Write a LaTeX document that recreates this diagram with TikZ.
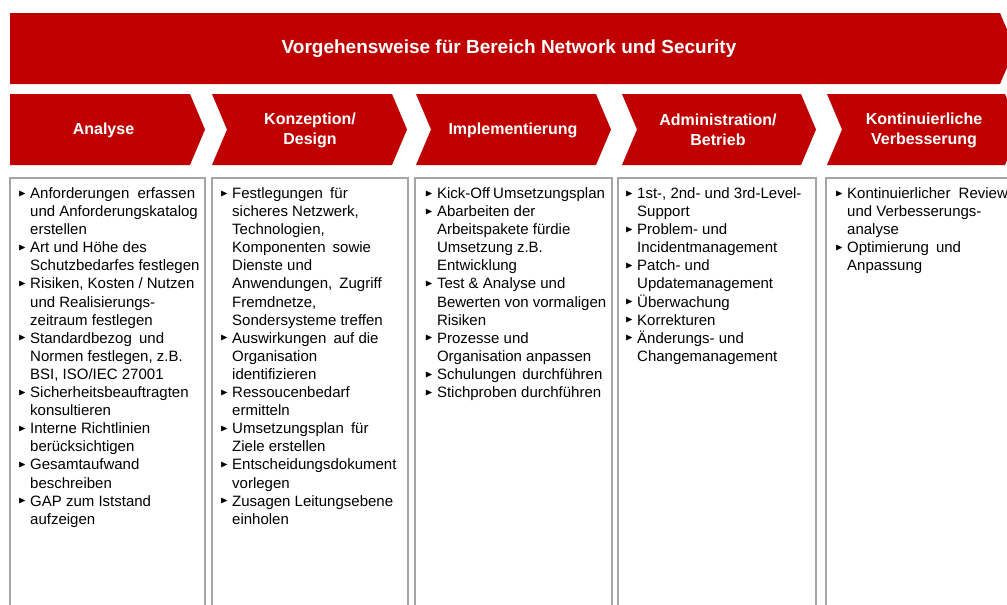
\documentclass[tikz,border=0pt]{standalone}
\usepackage{fontspec}
\setmainfont{Liberation Sans}
\usepackage{amssymb}
\definecolor{hdrred}{RGB}{192,0,0}
\definecolor{boxgray}{RGB}{165,165,165}
\newcommand\bodyfont{\fontsize{15}{18.1}\selectfont}
\newcommand\tri{\makebox[9.3pt][l]{\hspace{-2.5pt}\raisebox{2.3pt}{\fontsize{10}{10}\selectfont$\blacktriangleright$}}}
\newcommand\xs[1]{\hspace{#1pt}}
\begin{document}
\begin{tikzpicture}[x=1pt,y=-1pt,
  chevlabel/.style={text=white,font=\fontsize{16}{20}\selectfont\bfseries,align=center,inner sep=0},
  titlelabel/.style={text=white,font=\fontsize{19}{22}\selectfont\bfseries,inner sep=0},
  colbox/.style={draw=boxgray,line width=1.3pt},
  coltext/.style={anchor=north west,inner sep=0,font=\bodyfont}]
\useasboundingbox (0,0) rectangle (1007,605);
\clip (0,0) rectangle (1007,605);

% header banner
\fill[hdrred] (10,13) -- (1000,13) -- (1015,48.5) -- (1000,84) -- (10,84) -- cycle;
\node[titlelabel] (title) at (509,48.5) {Vorgehensweise für Bereich Network und Security};

% chevrons
\fill[hdrred] (10,94) -- (190,94) -- (205,129.5) -- (190,165) -- (10,165) -- cycle;
\fill[hdrred] (212,94) -- (392,94) -- (407,129.5) -- (392,165) -- (212,165) -- (227,129.5) -- cycle;
\fill[hdrred] (416,94) -- (596,94) -- (611,129.5) -- (596,165) -- (416,165) -- (431,129.5) -- cycle;
\fill[hdrred] (622,94) -- (801,94) -- (816,129.5) -- (801,165) -- (622,165) -- (637,129.5) -- cycle;
\fill[hdrred] (827,94) -- (1005,94) -- (1020,129.5) -- (1005,165) -- (827,165) -- (842,129.5) -- cycle;

\node[chevlabel] (c1) at (103.5,130) {Analyse};
\node[chevlabel] (c2) at (310,130) {Konzeption/\\Design};
\node[chevlabel] (c3) at (513,130) {Implementierung};
\node[chevlabel] (c4) at (718,130) {Administration/\\Betrieb};
\node[chevlabel] (c5) at (924,130) {Kontinuierliche\\Verbesserung};

% column boxes
\draw[colbox] (10,178) rectangle (205,640);
\draw[colbox] (212,178) rectangle (408,640);
\draw[colbox] (415,178) rectangle (612,640);
\draw[colbox] (618,178) rectangle (816,640);
\draw[colbox] (826,178) rectangle (1030,640);

% column texts
\node[coltext] (t1) at (20.7,185.6) {\begin{tabular}{@{}l@{}l@{}}
\tri & Anforderungen\xs{4} erfassen\\
 & und Anforderungskatalog\\
 & erstellen\\
\tri & Art und Höhe des\\
 & Schutzbedarfes festlegen\\
\tri & Risiken, Kosten / Nutzen\\
 & und Realisierungs-\\
 & zeitraum festlegen\\
\tri & Standardbezog\xs{3} und\\
 & Normen festlegen, z.B.\\
 & BSI, ISO/IEC 27001\\
\tri & Sicherheitsbeauftragten\\
 & konsultieren\\
\tri & Interne Richtlinien\\
 & berücksichtigen\\
\tri & Gesamtaufwand\\
 & beschreiben\\
\tri & GAP zum Iststand\\
 & aufzeigen
\end{tabular}};

\node[coltext] (t2) at (222.7,185.6) {\begin{tabular}{@{}l@{}l@{}}
\tri & Festlegungen\xs{3} für\\
 & sicheres Netzwerk,\\
 & Technologien,\\
 & Komponenten\xs{3} sowie\\
 & Dienste und\\
 & Anwendungen,\xs{3} Zugriff\\
 & Fremdnetze,\\
 & Sondersysteme treffen\\
\tri & Auswirkungen\xs{3} auf die\\
 & Organisation\\
 & identifizieren\\
\tri & Ressoucenbedarf\\
 & ermitteln\\
\tri & Umsetzungsplan\xs{3} für\\
 & Ziele erstellen\\
\tri & Entscheidungsdokument\\
 & vorlegen\\
\tri & Zusagen Leitungsebene\\
 & einholen
\end{tabular}};

\node[coltext] (t3) at (427.5,185.6) {\begin{tabular}{@{}l@{}l@{}}
\tri & Kick-Off\xs{-1} Umsetzungsplan\\
\tri & Abarbeiten der\\
 & Arbeitspakete fürdie\\
 & Umsetzung z.B.\\
 & Entwicklung\\
\tri & Test \& Analyse und\\
 & Bewerten von vormaligen\\
 & Risiken\\
\tri & Prozesse und\\
 & Organisation anpassen\\
\tri & Schulungen\xs{2} durchführen\\
\tri & Stichproben durchführen
\end{tabular}};

\node[coltext] (t4) at (627.7,185.6) {\begin{tabular}{@{}l@{}l@{}}
\tri & 1st-, 2nd- und 3rd-Level-\\
 & Support\\
\tri & Problem- und\\
 & Incidentmanagement\\
\tri & Patch- und\\
 & Updatemanagement\\
\tri & Überwachung\\
\tri & Korrekturen\\
\tri & Änderungs- und\\
 & Changemanagement
\end{tabular}};

\node[coltext] (t5) at (837.7,185.6) {\begin{tabular}{@{}l@{}l@{}}
\tri & Kontinuierlicher\xs{4} Review\\
 & und Verbesserungs-\\
 & analyse\\
\tri & Optimierung\xs{3} und\\
 & Anpassung
\end{tabular}};
\end{tikzpicture}
\end{document}
